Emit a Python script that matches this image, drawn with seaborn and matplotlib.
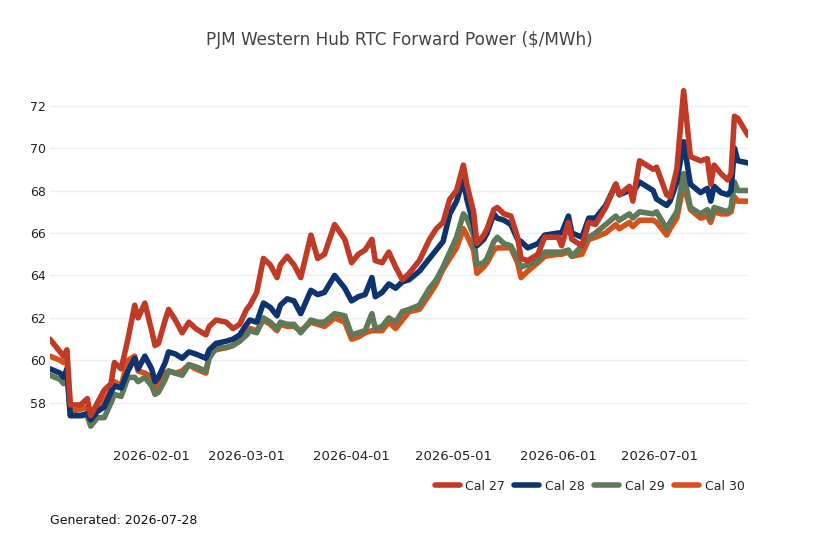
import matplotlib
matplotlib.use("Agg")
import matplotlib.pyplot as plt
import matplotlib.dates as mdates
import seaborn as sns
import pandas as pd

sns.set_style("white")
plt.rcParams['font.family'] = ['DejaVu Sans']

dates = [
    "2026-01-02", "2026-01-05", "2026-01-06", "2026-01-07", "2026-01-08", "2026-01-11",
    "2026-01-13", "2026-01-14", "2026-01-16", "2026-01-18", "2026-01-20", "2026-01-21",
    "2026-01-23", "2026-01-25", "2026-01-27", "2026-01-28", "2026-01-30", "2026-02-01",
    "2026-02-02", "2026-02-03", "2026-02-05", "2026-02-06", "2026-02-08", "2026-02-10",
    "2026-02-12", "2026-02-14", "2026-02-17", "2026-02-18", "2026-02-20", "2026-02-23",
    "2026-02-25", "2026-02-27", "2026-03-01", "2026-03-02", "2026-03-04", "2026-03-06",
    "2026-03-08", "2026-03-10", "2026-03-11", "2026-03-13", "2026-03-15", "2026-03-17",
    "2026-03-20", "2026-03-22", "2026-03-24", "2026-03-27", "2026-03-30", "2026-04-01",
    "2026-04-03", "2026-04-05", "2026-04-07", "2026-04-08", "2026-04-10", "2026-04-12",
    "2026-04-14", "2026-04-16", "2026-04-18", "2026-04-21", "2026-04-24", "2026-04-26",
    "2026-04-28", "2026-04-30", "2026-05-02", "2026-05-04", "2026-05-05", "2026-05-07",
    "2026-05-08", "2026-05-10", "2026-05-11", "2026-05-13", "2026-05-14", "2026-05-16",
    "2026-05-18", "2026-05-20", "2026-05-21", "2026-05-23", "2026-05-26", "2026-05-28",
    "2026-06-01", "2026-06-02", "2026-06-04", "2026-06-05", "2026-06-08", "2026-06-10",
    "2026-06-12", "2026-06-15", "2026-06-18", "2026-06-19", "2026-06-22", "2026-06-23",
    "2026-06-25", "2026-06-29", "2026-06-30", "2026-07-03", "2026-07-04", "2026-07-06",
    "2026-07-08", "2026-07-10", "2026-07-13", "2026-07-15", "2026-07-16", "2026-07-17",
    "2026-07-19", "2026-07-21", "2026-07-22", "2026-07-23", "2026-07-24", "2026-07-27",
]

cal27 = [
    61.0, 60.4, 60.2, 60.5, 57.9, 57.9, 58.2, 57.4, 58.0, 58.6, 58.9, 59.9,
    59.6, 61.0, 62.6, 62.0, 62.7, 61.4, 60.7, 60.8, 61.9, 62.4, 61.9, 61.3,
    61.8, 61.5, 61.2, 61.6, 61.9, 61.8, 61.5, 61.7, 62.4, 62.6, 63.2, 64.8,
    64.5, 63.9, 64.5, 64.9, 64.5, 63.9, 65.9, 64.8, 65.0, 66.4, 65.7, 64.6,
    65.0, 65.2, 65.7, 64.7, 64.6, 65.1, 64.4, 63.8, 64.1, 64.7, 65.7, 66.2,
    66.5, 67.6, 68.0, 69.2, 68.3, 67.0, 65.5, 65.9, 66.2, 67.1, 67.2, 66.9,
    66.8, 65.8, 64.8, 64.7, 65.0, 65.8, 65.8, 65.4, 66.5, 65.7, 65.4, 66.5,
    66.4, 67.2, 68.3, 67.8, 68.2, 67.5, 69.4, 69.0, 69.1, 67.8, 67.7, 69.0,
    72.7, 69.6, 69.4, 69.5, 68.3, 69.2, 68.8, 68.5, 68.8, 71.5, 71.4, 70.6,
]
cal28 = [
    59.6, 59.4, 59.2, 59.6, 57.4, 57.4, 57.5, 57.2, 57.6, 57.8, 58.5, 58.8,
    58.7, 59.5, 60.1, 59.6, 60.2, 59.6, 59.0, 59.2, 59.9, 60.4, 60.3, 60.1,
    60.4, 60.3, 60.1, 60.5, 60.8, 60.9, 61.0, 61.2, 61.7, 61.9, 61.8, 62.7,
    62.5, 62.1, 62.6, 62.9, 62.8, 62.2, 63.3, 63.1, 63.2, 64.0, 63.4, 62.8,
    63.0, 63.1, 63.9, 63.0, 63.2, 63.6, 63.4, 63.7, 63.8, 64.2, 64.8, 65.2,
    65.6, 66.9, 67.5, 68.5, 67.6, 66.4, 65.4, 65.7, 66.0, 66.9, 66.7, 66.6,
    66.4, 65.7, 65.6, 65.3, 65.5, 65.9, 66.0, 66.0, 66.8, 66.0, 65.8, 66.7,
    66.7, 67.3, 68.3, 67.8, 68.0, 67.9, 68.4, 68.0, 67.6, 67.3, 67.5, 68.4,
    70.3, 68.3, 67.9, 68.1, 67.5, 68.2, 67.9, 67.8, 68.0, 70.0, 69.4, 69.3,
]
cal29 = [
    59.3, 59.1, 58.9, 59.4, 57.4, 57.4, 57.4, 56.9, 57.3, 57.3, 58.0, 58.4,
    58.3, 59.2, 59.2, 59.0, 59.2, 58.8, 58.4, 58.5, 59.1, 59.5, 59.4, 59.3,
    59.8, 59.7, 59.5, 60.1, 60.6, 60.6, 60.7, 60.9, 61.2, 61.4, 61.3, 62.0,
    61.8, 61.5, 61.8, 61.7, 61.7, 61.3, 61.9, 61.8, 61.8, 62.2, 62.1, 61.2,
    61.3, 61.4, 62.2, 61.5, 61.6, 62.0, 61.8, 62.3, 62.4, 62.6, 63.4, 63.8,
    64.4, 65.1, 65.8, 66.9, 66.7, 65.9, 64.5, 64.6, 64.8, 65.6, 65.8, 65.5,
    65.4, 64.8, 64.4, 64.5, 64.7, 65.1, 65.1, 65.1, 65.2, 64.9, 65.4, 65.8,
    66.0, 66.4, 66.8, 66.6, 66.9, 66.7, 67.0, 66.9, 67.0, 66.2, 66.5, 67.0,
    68.8, 67.2, 66.9, 67.1, 66.7, 67.2, 67.1, 67.0, 67.2, 68.4, 68.0, 68.0,
]
cal30 = [
    60.2, 60.0, 59.9, 60.0, 57.6, 57.7, 57.8, 57.3, 57.8, 58.1, 58.6, 59.0,
    58.8, 60.0, 60.2, 59.5, 59.4, 59.2, 58.7, 58.8, 59.4, 59.5, 59.4, 59.5,
    59.8, 59.6, 59.4, 60.3, 60.5, 60.6, 60.7, 61.0, 61.2, 61.5, 61.4, 61.9,
    61.7, 61.4, 61.7, 61.6, 61.6, 61.4, 61.8, 61.7, 61.6, 62.0, 61.8, 61.0,
    61.1, 61.3, 61.4, 61.4, 61.4, 61.8, 61.5, 61.9, 62.3, 62.4, 63.1, 63.6,
    64.3, 64.8, 65.3, 66.2, 65.9, 65.2, 64.1, 64.4, 64.6, 65.2, 65.3, 65.3,
    65.3, 64.6, 63.9, 64.2, 64.6, 64.9, 65.0, 65.0, 65.1, 64.9, 65.0, 65.7,
    65.8, 66.0, 66.4, 66.2, 66.5, 66.3, 66.6, 66.6, 66.5, 65.9, 66.2, 66.7,
    68.3, 67.1, 66.7, 66.8, 66.5, 67.0, 66.9, 66.9, 67.0, 67.7, 67.5, 67.5,
]

contracts = ["Cal 27", "Cal 28", "Cal 29", "Cal 30"]
colors = ["#C13A26", "#0D3371", "#5E7A59", "#D4521C"]
yticks = [58, 60, 62, 64, 66, 68, 70, 72]
xticks = ["2026-02-01", "2026-03-01", "2026-04-01", "2026-05-01", "2026-06-01", "2026-07-01"]

frames = []
for name, vals in zip(contracts, [cal27, cal28, cal29, cal30]):
    frames.append(pd.DataFrame({"date": pd.to_datetime(dates), "price": vals, "contract": name}))
df = pd.concat(frames, ignore_index=True)

fig = plt.figure(figsize=(8.18, 5.45), dpi=100)
ax = fig.add_axes([50 / 818, 105 / 545, 698 / 818, 362 / 545])

# later contracts underneath, Cal 27 on top
for name, col in reversed(list(zip(contracts, colors))):
    sns.lineplot(data=df[df.contract == name], x="date", y="price", color=col,
                 linewidth=4.0, ax=ax, label=name, legend=False)

ax.set_xlim(pd.Timestamp(dates[0]), pd.Timestamp(dates[-1]))
ax.set_ylim(56.25, 73.3)
ax.set_yticks(yticks)
ax.set_xticks(pd.to_datetime(xticks))
ax.xaxis.set_major_formatter(mdates.DateFormatter("%Y-%m-%d"))
ax.grid(axis="y", color="#eeeeee", linewidth=1)
ax.grid(axis="x", visible=False)
for s in ax.spines.values():
    s.set_visible(False)
ax.tick_params(axis="both", length=0, labelsize=9, colors="#222222")
ax.tick_params(axis="x", labelsize=9.5, pad=7)
ax.tick_params(axis="y", pad=3)
ax.set_xlabel("")
ax.set_ylabel("")

handles, labels = ax.get_legend_handles_labels()
order = [labels.index(c) for c in contracts]
fig.legend([handles[i] for i in order], contracts, loc="center right",
           bbox_to_anchor=(752 / 818, 1 - 486 / 545), ncol=4, frameon=False,
           fontsize=9, handlelength=2.0, handletextpad=0.45, columnspacing=0.75,
           borderaxespad=0.2)

fig.text(399 / 818, 1 - 40 / 545, "PJM Western Hub RTC Forward Power ($/MWh)",
         ha="center", va="center", fontsize=12.2, color="#444444")
fig.text(50 / 818, 1 - 520 / 545, "Generated: 2026-07-28", ha="left", va="center",
         fontsize=9, color="#111111")

fig.savefig("out.png", dpi=100)
